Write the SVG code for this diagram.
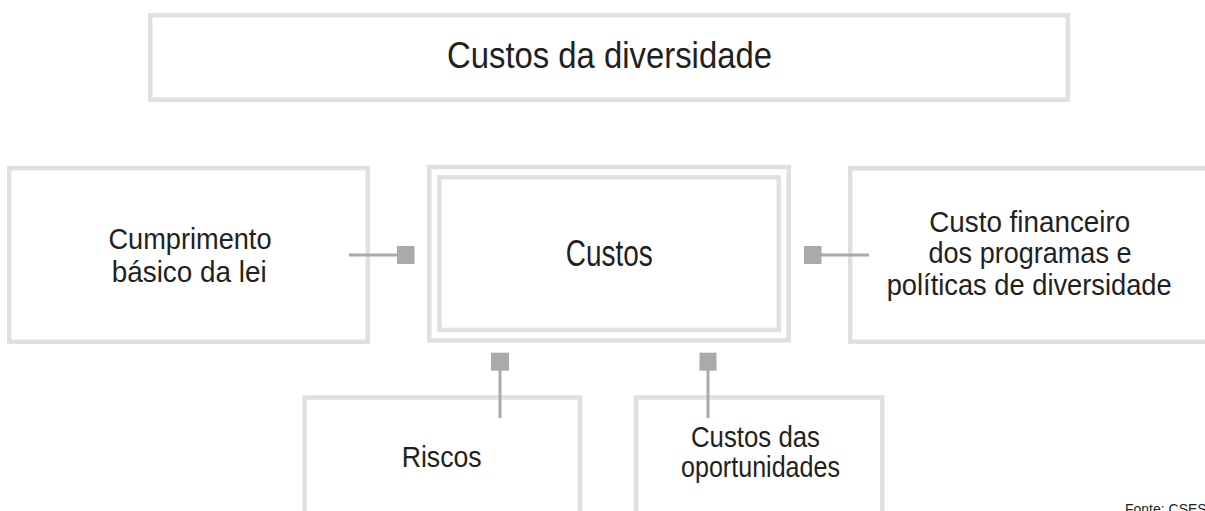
<svg xmlns="http://www.w3.org/2000/svg" width="1205" height="511" viewBox="0 0 1205 511">
  <style>
    .box { fill: #ffffff; stroke: #e0e0e0; stroke-width: 4.5; }
    .lbl { font-family: "Liberation Sans", Arial, sans-serif; fill: #231f20; text-anchor: middle; }
    .conn { stroke: #aaaaaa; stroke-width: 3; fill: none; }
    .sq { fill: #aaaaaa; }
  </style>
  <rect width="1205" height="511" fill="#ffffff"/>

  <g id="node-title">
    <rect class="box" x="150.2" y="15.2" width="917.6" height="84.5"/>
    <text class="lbl" x="609.5" y="68" font-size="37" textLength="325" lengthAdjust="spacingAndGlyphs">Custos da diversidade</text>
  </g>

  <g id="node-cumprimento">
    <rect class="box" x="9.2" y="168.2" width="358.6" height="173.6"/>
    <text class="lbl" x="190" y="249" font-size="30" textLength="163" lengthAdjust="spacingAndGlyphs">Cumprimento</text>
    <text class="lbl" x="189.2" y="282" font-size="30" textLength="155" lengthAdjust="spacingAndGlyphs">básico da lei</text>
  </g>

  <g id="node-custos">
    <rect class="box" x="429.3" y="167" width="359.4" height="173.4"/>
    <rect class="box" x="439.5" y="177.3" width="339.3" height="152.7"/>
    <text class="lbl" x="609.3" y="266" font-size="36" textLength="87" lengthAdjust="spacingAndGlyphs">Custos</text>
  </g>

  <g id="node-financeiro">
    <rect class="box" x="850.2" y="168.3" width="380" height="173.5"/>
    <text class="lbl" x="1029.7" y="231.5" font-size="29" textLength="201" lengthAdjust="spacingAndGlyphs">Custo financeiro</text>
    <text class="lbl" x="1030" y="263" font-size="29" textLength="203" lengthAdjust="spacingAndGlyphs">dos programas e</text>
    <text class="lbl" x="1029.2" y="294.5" font-size="29" textLength="285" lengthAdjust="spacingAndGlyphs">políticas de diversidade</text>
  </g>

  <g id="node-riscos">
    <rect class="box" x="304.5" y="397.5" width="275.5" height="140"/>
    <text class="lbl" x="441.7" y="467" font-size="30" textLength="80" lengthAdjust="spacingAndGlyphs">Riscos</text>
  </g>

  <g id="node-oportunidades">
    <rect class="box" x="636.2" y="397.5" width="246" height="140"/>
    <text class="lbl" x="755.5" y="447" font-size="30" textLength="129" lengthAdjust="spacingAndGlyphs">Custos das</text>
    <text class="lbl" x="760.5" y="477" font-size="30" textLength="159" lengthAdjust="spacingAndGlyphs">oportunidades</text>
  </g>

  <g id="connectors">
    <line class="conn" x1="349" y1="255" x2="400" y2="255"/>
    <rect class="sq" x="397" y="246" width="17.5" height="18"/>
    <line class="conn" x1="818" y1="255" x2="869" y2="255"/>
    <rect class="sq" x="804" y="246" width="17.5" height="18"/>
    <line class="conn" x1="500" y1="368" x2="500" y2="418"/>
    <rect class="sq" x="491" y="352.7" width="18" height="18"/>
    <line class="conn" x1="708" y1="368" x2="708" y2="418"/>
    <rect class="sq" x="699.5" y="352.7" width="17" height="18"/>
  </g>

  <text id="source" x="1125" y="514" font-family="Liberation Sans, Arial, sans-serif" font-size="14" fill="#231f20">Fonte: CSES</text>
</svg>
